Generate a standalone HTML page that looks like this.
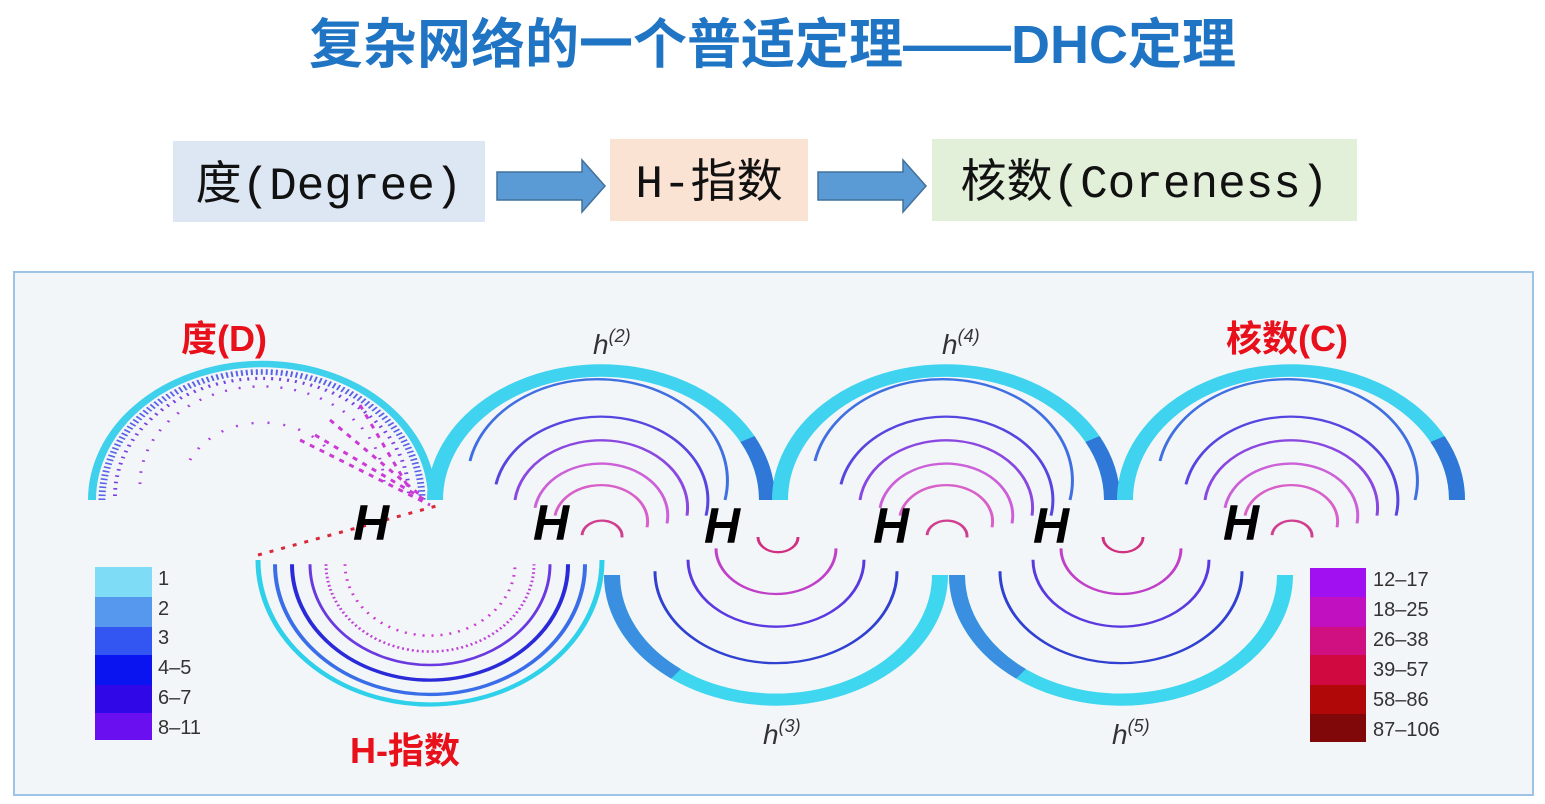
<!DOCTYPE html>
<html><head><meta charset="utf-8"><style>
body{margin:0;width:1545px;height:804px;background:#fff;position:relative;overflow:hidden;font-family:"Liberation Sans","Noto Sans CJK SC",sans-serif}
.t{position:absolute;left:0;width:1545px;top:0px;text-align:center;font-size:54px;font-weight:bold;color:#1f74c4}
.box{position:absolute;font-family:"Liberation Mono","Noto Sans CJK SC",monospace;font-size:46px;color:#111;line-height:92px;text-align:center}
</style></head><body>
<div class="t">复杂网络的一个普适定理——DHC定理</div>
<div class="box" style="left:173px;top:141px;width:312px;height:81px;background:#dce7f3">度(Degree)</div>
<div class="box" style="left:610px;top:139px;width:198px;height:82px;background:#fbe3d4">H-指数</div>
<div class="box" style="left:932px;top:139px;width:425px;height:82px;background:#e2efd9">核数(Coreness)</div>
<svg width="1545" height="804" style="position:absolute;left:0;top:0">
<polygon points="497,172 582,172 582,160 605,186 582,212 582,200 497,200" fill="#5b9bd5" stroke="#41719c" stroke-width="1.5"/>
<polygon points="818,172 903,172 903,160 926,186 903,212 903,200 818,200" fill="#5b9bd5" stroke="#41719c" stroke-width="1.5"/>
<rect x="14" y="272" width="1519" height="523" fill="#f3f6f9" stroke="#9dc3e6" stroke-width="2"/>
<g fill="none">
<!-- degree top arc -->
<g transform="translate(262,500) scale(1,0.8) translate(-262,-500)">
<path d="M92 500 A170 170 0 0 1 432 500" stroke="#3fd0ec" stroke-width="8"/>
<path d="M102 500 A160 160 0 0 1 422 500" stroke="#5a63e8" stroke-width="7" stroke-dasharray="2 3"/>
<path d="M115 495 A147 147 0 0 1 409 495" stroke="#7a40e0" stroke-width="4" stroke-dasharray="2 6"/>
<path d="M140 480 A122 122 0 0 1 384 480" stroke="#a040e0" stroke-width="3" stroke-dasharray="2 12"/>
<path d="M190 450 A80 80 0 0 1 330 440" stroke="#b040e0" stroke-width="3" stroke-dasharray="2 14"/>
</g>
<path d="M330 420 L420 495 M315 435 L425 500 M360 405 L410 490 M300 440 L430 505" stroke="#cc3ad6" stroke-width="3" stroke-dasharray="5 6"/>
<path d="M258 555 L440 505" stroke="#d8283a" stroke-width="3" stroke-dasharray="4 8"/>
<!-- H bottom arc -->
<g transform="translate(430,560) scale(1,0.84) translate(-430,-560)">
<path d="M258 560 A172 172 0 0 0 602 560" stroke="#2fd0ea" stroke-width="5"/>
<path d="M275 565 A155 155 0 0 0 585 565" stroke="#3a6ee8" stroke-width="4"/>
<path d="M292 565 A138 138 0 0 0 568 565" stroke="#2a2ad8" stroke-width="4"/>
<path d="M310 565 A120 120 0 0 0 550 565" stroke="#6a3ae0" stroke-width="3"/>
<path d="M326 565 A104 104 0 0 0 534 565" stroke="#c040d8" stroke-width="3" stroke-dasharray="2 3"/>
<path d="M345 565 A85 85 0 0 0 515 565" stroke="#cc3ad0" stroke-width="3" stroke-dasharray="2 7"/>
</g>
<!-- top arcs -->
<g id="top2">
<g transform="translate(601,500) scale(1,0.78) translate(-601,-500)">
<path d="M435 500 A166 166 0 0 1 767 500" stroke="#3fd3ef" stroke-width="16"/>
<path d="M435 500 A166 166 0 0 1 767 500" stroke="#2f78d8" stroke-width="16" stroke-dasharray="0 440 82 10"/>
<path d="M470 450 A128 128 0 0 1 725 500" stroke="#3f6fe0" stroke-width="3"/>
<path d="M496 480 A105 105 0 0 1 706 520" stroke="#5646e0" stroke-width="3"/>
<path d="M515 500 A86 86 0 0 1 687 520" stroke="#8a48e0" stroke-width="3"/>
<path d="M535 510 A66 66 0 0 1 667 530" stroke="#cc60d8" stroke-width="3"/>
<path d="M555 520 A46 46 0 0 1 647 535" stroke="#d860c8" stroke-width="3"/>
<path d="M582 545 A20 20 0 0 1 622 548" stroke="#d04090" stroke-width="3"/>
</g>
</g>
<use href="#top2" transform="translate(345,0)"/>
<use href="#top2" transform="translate(690,0)"/>
<!-- bottom arcs -->
<g id="bot3">
<g transform="translate(776,575) scale(1,0.76) translate(-776,-575)">
<path d="M612 575 A164 164 0 0 0 940 575" stroke="#3fd6ef" stroke-width="16"/>
<path d="M612 575 A164 164 0 0 0 940 575" stroke="#3a8fe0" stroke-width="16" stroke-dasharray="150 1000"/>
<path d="M655 570 A121 121 0 0 0 897 570" stroke="#3040d0" stroke-width="3"/>
<path d="M688 555 A88 88 0 0 0 864 555" stroke="#5a3ae0" stroke-width="3"/>
<path d="M716 540 A60 60 0 0 0 836 540" stroke="#c040c8" stroke-width="3"/>
<path d="M758 525 A20 20 0 0 0 798 525" stroke="#d03080" stroke-width="3"/>
</g>
</g>
<use href="#bot3" transform="translate(345,0)"/>
</g>
<g font-family="Liberation Sans,sans-serif" font-size="14">
<rect x="95" y="567" width="57" height="30" fill="#7edcf7"/>
<rect x="95" y="597" width="57" height="30" fill="#5598ee"/>
<rect x="95" y="627" width="57" height="28" fill="#3356f2"/>
<rect x="95" y="655" width="57" height="30" fill="#0a14f0"/>
<rect x="95" y="685" width="57" height="28" fill="#3008e8"/>
<rect x="95" y="713" width="57" height="27" fill="#6a10f0"/>
<g font-size="20" fill="#333"><text x="158" y="585">1</text><text x="158" y="615">2</text><text x="158" y="644">3</text><text x="158" y="674">4–5</text><text x="158" y="704">6–7</text><text x="158" y="734">8–11</text></g>
<rect x="1310" y="568" width="56" height="29" fill="#a010f0"/>
<rect x="1310" y="597" width="56" height="30" fill="#c010c0"/>
<rect x="1310" y="627" width="56" height="28" fill="#d01080"/>
<rect x="1310" y="655" width="56" height="30" fill="#d00a40"/>
<rect x="1310" y="685" width="56" height="29" fill="#b00808"/>
<rect x="1310" y="714" width="56" height="28" fill="#800808"/>
<g font-size="20" fill="#333"><text x="1373" y="586">12–17</text><text x="1373" y="616">18–25</text><text x="1373" y="646">26–38</text><text x="1373" y="676">39–57</text><text x="1373" y="706">58–86</text><text x="1373" y="736">87–106</text></g>
</g>
<g font-family="Liberation Sans,sans-serif" font-style="italic" fill="#333" font-size="28">
<text x="593" y="354">h<tspan font-size="18" dy="-12">(2)</tspan></text>
<text x="942" y="354">h<tspan font-size="18" dy="-12">(4)</tspan></text>
<text x="763" y="744">h<tspan font-size="18" dy="-12">(3)</tspan></text>
<text x="1112" y="744">h<tspan font-size="18" dy="-12">(5)</tspan></text>
</g>
<g font-family="Liberation Sans,sans-serif" font-style="italic" font-weight="bold" font-size="50" fill="#000">
<text x="353" y="540">H</text><text x="533" y="540">H</text><text x="704" y="543">H</text><text x="873" y="543">H</text><text x="1033" y="543">H</text><text x="1223" y="540">H</text>
</g>
<g font-family="Liberation Sans,Noto Sans CJK SC,sans-serif" font-weight="bold" font-size="36" fill="#e8101a">
<text x="181" y="351">度(D)</text><text x="1226" y="351">核数(C)</text><text x="350" y="763">H-指数</text>
</g>
</svg>
</body></html>
